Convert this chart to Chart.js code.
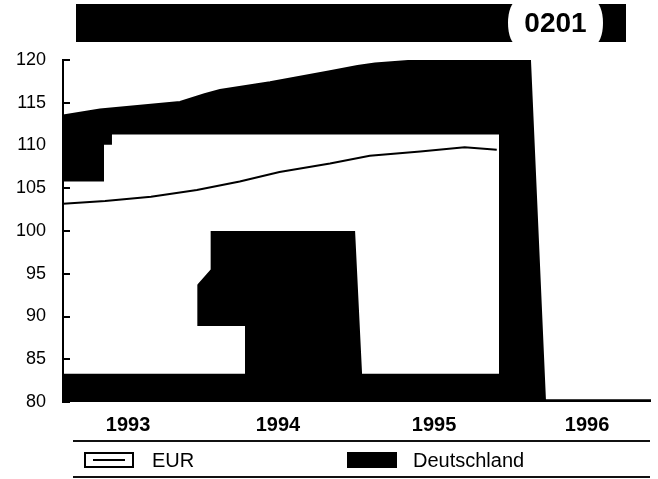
<!DOCTYPE html>
<html><head><meta charset="utf-8">
<style>
html,body{margin:0;padding:0;background:#fff;width:658px;height:479px;overflow:hidden;font-family:"Liberation Sans",Arial,sans-serif;color:#000}
#wrap{position:relative;width:658px;height:479px}
canvas{position:absolute;left:0;top:0}
.a{position:absolute}
#bar{left:76px;top:4px;width:550px;height:38px;background:#000}
#pill{left:508px;top:1px;width:95px;height:44px;background:#fff;border-radius:9px / 50%;font-weight:bold;font-size:28px;line-height:44px;text-align:center;letter-spacing:0}
.rule{left:73px;width:577px;height:2px;background:#111}
.sw{top:452px;width:50px;height:16px;box-sizing:border-box}
.lab{top:450px;font-size:20px;line-height:20px}
</style></head><body>
<div id="wrap">
<canvas id="c" width="658" height="479"></canvas>
<div class="a" id="bar"></div><div class="a" id="pill"></div>
<div class="a rule" style="top:440px"></div>
<div class="a rule" style="top:476px"></div>
<div class="a sw" style="left:84px;border:2px solid #000"><div style="position:absolute;left:7px;right:7px;top:5px;height:2px;background:#000"></div></div>
<div class="a lab" id="l0" style="left:152px"></div>
<div class="a sw" style="left:347px;background:#000"></div>
<div class="a lab" id="l1" style="left:413px"></div>
</div>
<script src="https://cdn.jsdelivr.net/npm/chart.js@4"></script>
<script>
const chartCode = "0201";
const seriesNames = ["EUR", "Deutschland"];
const yearLabels = [1993, 1994, 1995, 1996];
const yearTickTimes = [1993.5, 1994.48, 1995.5, 1996.5];
const yTicks = [80, 85, 90, 95, 100, 105, 110, 115, 120];

const deTimes  = [1993.075,1993.317,1993.840,1994.000,1994.101,1994.428,1994.820,1995.000,1995.114,1995.343,1995.539,1996.127,1996.225,1996.918];
const deValues = [113.5,114.2,115.1,116.0,116.5,117.4,118.7,119.3,119.6,119.9,120,120,80.2,80.2];

const eurTimes  = [1993.075,1993.350,1993.650,1993.950,1994.230,1994.490,1994.820,1995.080,1995.410,1995.700,1995.910];
const eurValues = [103.2,103.5,104.0,104.8,105.8,106.9,107.9,108.8,109.3,109.8,109.5];

const upperWhiteTimes  = [1993.075,1993.343,1993.343,1993.395,1993.395,1995.925,1995.925];
const upperWhiteValues = [105.8,105.8,110.1,110.1,111.3,111.3,80];

const coreTimes  = [1993.952,1993.952,1994.040,1994.040,1994.984,1995.030,1995.030];
const coreValues = [80,93.7,95.5,100,100,83.2,80];

const lowerWhiteTimes  = [1993.930,1993.930,1994.265,1994.265];
const lowerWhiteValues = [80,88.9,88.9,80];

const floorTimes  = [1993.075,1995.950];
const floorValues = [83.3,83.3];

const pts = (t,v)=>t.map((x,i)=>({x,y:v[i]}));
const layer = (label,t,v,color,fill,w)=>({label,data:pts(t,v),borderColor:color,backgroundColor:color,borderWidth:w,fill,pointRadius:0,tension:0});

document.getElementById('pill').textContent = chartCode;
document.getElementById('l0').textContent = seriesNames[0];
document.getElementById('l1').textContent = seriesNames[1];

new Chart(document.getElementById('c'),{
  type:'line',
  data:{datasets:[
    layer(seriesNames[0],eurTimes,eurValues,'#000',false,2),
    layer('Boden',floorTimes,floorValues,'#000','start',0),
    layer('Aussparung',lowerWhiteTimes,lowerWhiteValues,'#fff','start',0),
    layer('Kern',coreTimes,coreValues,'#000','start',0),
    layer('Fläche',upperWhiteTimes,upperWhiteValues,'#fff','start',0),
    layer(seriesNames[1],deTimes,deValues,'#000','start',2)
  ]},
  options:{
    responsive:false,animation:false,
    layout:{padding:{left:0,right:7,top:60,bottom:39}},
    plugins:{legend:{display:false},title:{display:false},tooltip:{enabled:false}},
    scales:{
      x:{type:'linear',min:1993.075,max:1996.918,
        afterBuildTicks:s=>{s.ticks=yearTickTimes.map(v=>({value:v}));},
        afterFit:s=>{s.height=38;},
        grid:{display:false},border:{display:false},
        ticks:{padding:3,color:'#000',maxRotation:0,autoSkip:false,font:{family:'"Liberation Sans"',size:20,weight:'bold'},callback:v=>String(Math.floor(v))}},
      y:{min:80,max:120,
        afterBuildTicks:s=>{s.ticks=yTicks.map(v=>({value:v}));},
        afterFit:s=>{s.width=63;},
        grid:{drawOnChartArea:false,drawTicks:true,tickLength:-7,color:'#000',lineWidth:2,z:1},
        border:{display:true,color:'#000',width:2,z:1},
        ticks:{padding:24,color:'#000',font:{family:'"Liberation Sans"',size:18}}}
    }
  }
});
</script>
</body></html>
